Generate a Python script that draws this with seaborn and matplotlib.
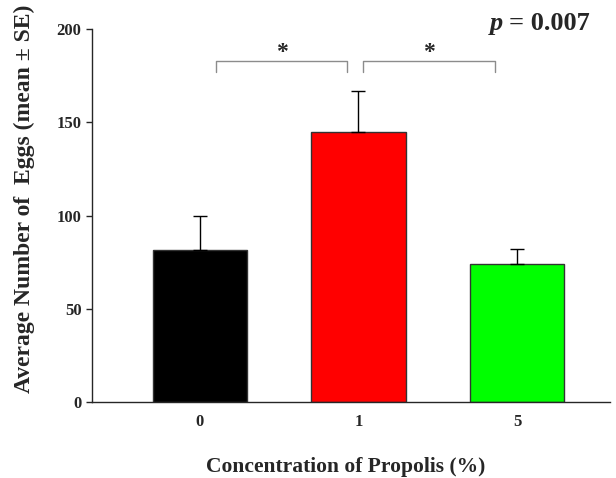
import numpy as np
import matplotlib
matplotlib.use("Agg")
import matplotlib.pyplot as plt
import seaborn as sns

concentrations = ["0", "1", "5"]
mean_eggs = [81.5, 144.8, 74.0]
se_eggs = [18.5, 22.0, 8.0]
bar_colors = ["#000000", "#ff0000", "#00ff00"]
y_ticks = [0, 50, 100, 150, 200]

sns.set_style("ticks")
plt.rcParams["font.family"] = ["Liberation Serif", "DejaVu Serif"]
plt.rcParams["font.weight"] = "bold"

fig = plt.figure(figsize=(6.16, 4.78), dpi=100)
ax = fig.add_axes([0.1494, 0.159, 0.841, 0.7803])

sns.barplot(x=concentrations, y=mean_eggs, hue=concentrations, palette=bar_colors,
            saturation=1, width=0.595, edgecolor="#333333", linewidth=1, legend=False, ax=ax)
ax.errorbar(range(len(mean_eggs)), mean_eggs, yerr=[np.zeros(len(se_eggs)), se_eggs],
            fmt="none", ecolor="black", elinewidth=1, capsize=5, capthick=1)

# significance brackets
bracket_color = "#8c8c8c"
for x0, x1 in [(0.1, 0.93), (1.03, 1.86)]:
    ax.plot([x0, x0, x1, x1], [177, 182.8, 182.8, 177], color=bracket_color, lw=1)
    ax.text((x0 + x1) / 2, 182, "*", ha="center", va="bottom", fontsize=17, fontweight="bold")

t_p = ax.text(0.768, 1.015, "p", transform=ax.transAxes, ha="left", va="center",
              fontsize=19, fontweight="bold", fontstyle="italic")
ax.annotate("= 0.007", xy=(1, 0), xycoords=t_p, xytext=(4, 0), textcoords="offset points",
            ha="left", va="bottom", fontsize=19, fontweight="bold")

ax.set_xlim(-0.68, 2.587)
ax.set_ylim(0, 200)
ax.set_yticks(y_ticks)
ax.tick_params(axis="both", labelsize=12, width=1, length=4, direction="out")
ax.tick_params(axis="x", length=0, pad=9)
for lbl in ax.get_xticklabels() + ax.get_yticklabels():
    lbl.set_fontweight("bold")
sns.despine(ax=ax)
ax.spines["left"].set_linewidth(1)
ax.spines["bottom"].set_linewidth(1)
ax.set_xlabel("Concentration of Propolis (%)", fontsize=15.5, fontweight="bold")
ax.set_ylabel("Average Number of  Eggs (mean ± SE)", fontsize=17, fontweight="bold")
ax.xaxis.set_label_coords(0.49, -0.147)
ax.yaxis.set_label_coords(-0.11, 0.545)

fig.savefig("out.png", dpi=100)
